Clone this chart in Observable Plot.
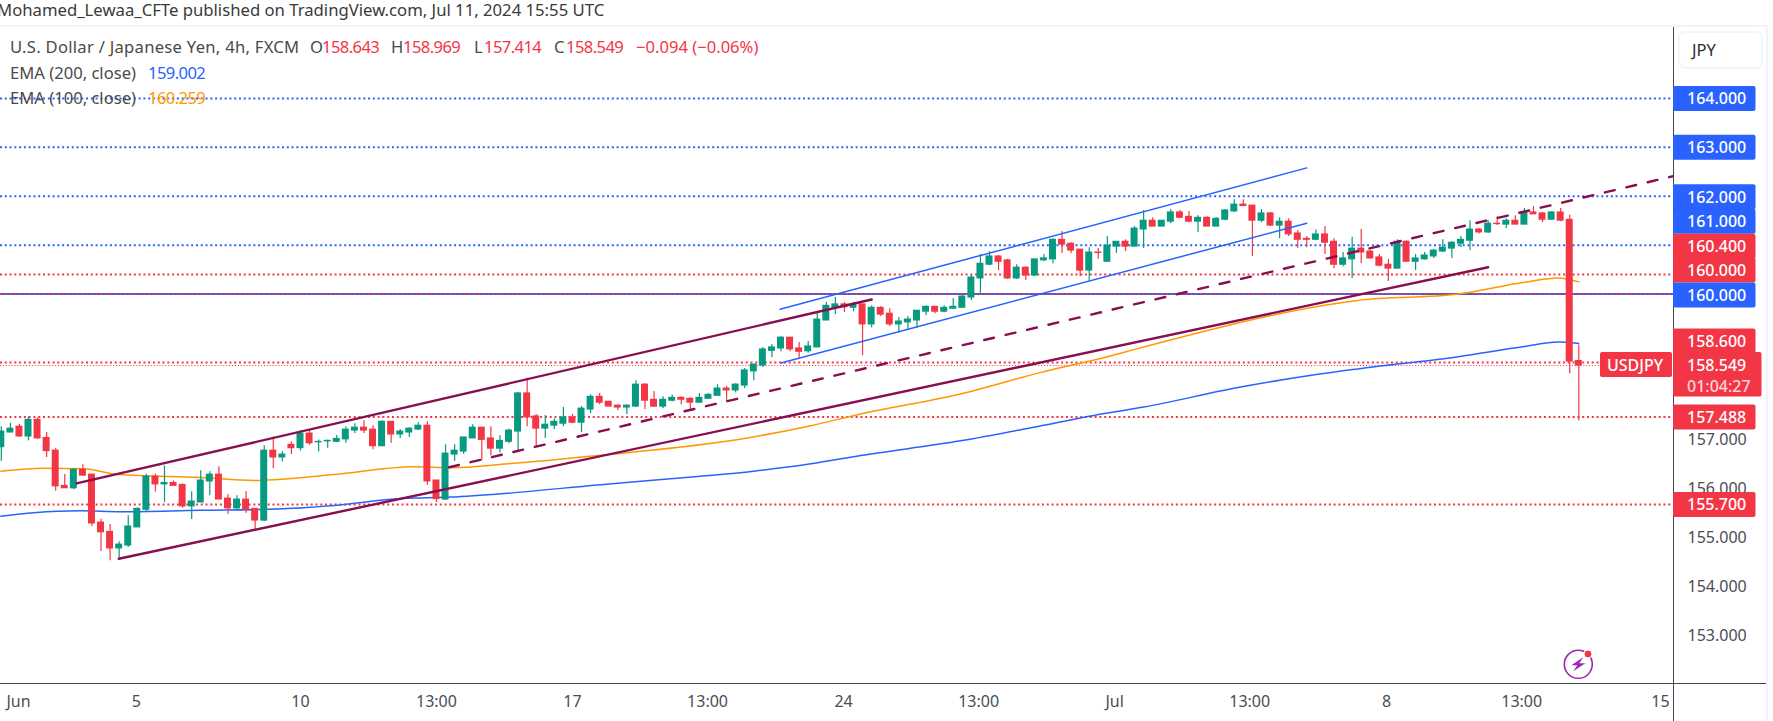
<!DOCTYPE html>
<html>
<head>
<meta charset="utf-8">
<script src="https://cdn.jsdelivr.net/npm/d3@7"></script>
<script src="https://cdn.jsdelivr.net/npm/@observablehq/plot@0.6"></script>
<style>
html,body{margin:0;padding:0;background:#fff;overflow:hidden;width:1773px;height:721px}
#cap{height:25px;font:16.7px/19px "Noto Sans",sans-serif;color:#3a3a3a;white-space:nowrap;margin-left:-3px}
#chart{position:relative;width:1773px;height:696px}
#legend{position:absolute;left:10px;top:9px;font:16.6px/25.5px "Noto Sans",sans-serif;color:#4a4a4a;white-space:nowrap}
#legend div{position:relative;height:25.5px}
#legend span{position:absolute;top:0}
#legend .n{letter-spacing:-0.6px}
#legend .t{position:static;letter-spacing:0.28px}
.r{color:#f23645}.bl{color:#2962ff}.o{color:#ff9800}
svg{display:block}
</style>
</head>
<body>
<div id="cap">Mohamed_Lewaa_CFTe published on TradingView.com, Jul 11, 2024 15:55 UTC</div>
<div id="chart">
<div id="legend">
<div><span class="t">U.S. Dollar / Japanese Yen, 4h, FXCM</span><span style="left:300px">O</span><span class="r n" style="left:312px">158.643</span><span style="left:381px">H</span><span class="r n" style="left:393px">158.969</span><span style="left:464px">L</span><span class="r n" style="left:474px">157.414</span><span style="left:544px">C</span><span class="r n" style="left:556px">158.549</span><span class="r" style="left:626px">−0.094 (−0.06%)</span></div>
<div>EMA (200, close)<span class="bl n" style="left:138px">159.002</span></div>
<div>EMA (100, close)<span class="o n" style="left:138px">160.259</span></div>
</div>
</div>
<script>
const opens = [
156.88,157.18,157.30,157.10,157.44,157.07,156.81,156.09,156.04,156.42,
156.32,155.34,155.15,154.81,154.87,155.24,155.60,156.28,156.12,156.15,
156.11,155.67,155.75,156.18,156.32,155.83,155.63,155.81,155.62,155.38,
156.81,156.67,156.93,156.86,157.16,156.98,157.00,156.99,157.04,157.22,
157.28,157.24,156.90,157.40,157.14,157.18,157.24,157.32,156.20,155.81,
156.73,156.79,157.06,157.28,157.06,156.85,156.99,157.20,157.98,157.51,
157.26,157.32,157.36,157.49,157.38,157.65,157.91,157.81,157.73,157.69,
157.71,158.16,157.85,157.71,157.83,157.89,157.87,157.79,157.87,157.93,
158.08,158.04,158.14,158.43,158.55,158.85,158.90,159.12,158.90,158.84,
158.92,159.47,159.73,159.80,159.73,159.80,159.39,159.73,159.61,159.39,
159.43,159.47,159.65,159.75,159.65,159.71,159.73,159.94,160.33,160.61,
160.78,160.70,160.33,160.55,160.39,160.70,160.72,161.12,161.04,160.92,
160.49,160.86,160.67,160.98,161.08,160.98,161.33,161.51,161.39,161.49,
161.68,161.59,161.49,161.57,161.39,161.53,161.70,161.84,161.82,161.51,
161.66,161.41,161.49,161.25,161.14,161.12,161.23,161.08,160.61,160.72,
160.94,160.88,160.76,160.61,160.53,161.08,160.67,160.72,160.78,160.88,
160.94,161.04,161.10,161.33,161.27,161.45,161.43,161.51,161.43,161.68,
161.66,161.53,161.68,161.53,158.643];
const closes = [
157.20,157.26,157.10,157.44,157.06,156.80,156.08,156.04,156.42,156.30,
155.32,155.14,154.81,154.89,155.26,155.62,156.28,156.12,156.15,156.09,
155.67,155.77,156.20,156.32,155.81,155.63,155.81,155.60,155.38,156.81,
156.67,156.73,156.86,157.16,156.96,156.99,157.01,157.05,157.24,157.28,
157.22,156.90,157.40,157.14,157.20,157.26,157.32,156.18,155.82,156.75,
156.81,157.08,157.28,157.03,156.85,157.01,157.22,157.98,157.49,157.26,
157.34,157.40,157.49,157.38,157.67,157.91,157.79,157.71,157.69,157.73,
158.16,157.83,157.71,157.85,157.89,157.85,157.79,157.89,157.95,158.08,
158.04,158.16,158.45,158.57,158.88,158.92,159.12,158.88,158.83,158.94,
159.49,159.77,159.80,159.74,159.80,159.39,159.73,159.59,159.39,159.45,
159.49,159.67,159.75,159.65,159.73,159.75,159.96,160.35,160.63,160.78,
160.67,160.33,160.55,160.39,160.72,160.74,161.12,161.02,160.90,160.49,
160.86,160.85,161.00,161.08,160.98,161.35,161.51,161.39,161.51,161.68,
161.57,161.49,161.57,161.39,161.55,161.72,161.84,161.81,161.51,161.66,
161.41,161.49,161.23,161.12,161.12,161.23,161.06,160.61,160.74,160.94,
160.86,160.74,160.59,160.53,161.08,160.67,160.74,160.80,160.90,160.96,
161.06,161.12,161.33,161.27,161.45,161.44,161.51,161.43,161.68,161.64,
161.53,161.68,161.51,158.63,158.549];
const highs = [
157.30,157.37,157.35,157.50,157.48,157.18,156.86,156.32,156.44,156.52,
156.33,155.41,155.30,154.95,155.48,155.64,156.33,156.33,156.50,156.19,
156.13,155.97,156.40,156.38,156.48,155.91,155.89,155.97,155.62,156.91,
157.09,156.79,156.99,157.22,157.22,157.03,157.03,157.12,157.30,157.36,
157.42,157.32,157.42,157.40,157.24,157.28,157.38,157.40,156.20,156.93,
156.93,157.08,157.34,157.28,157.30,157.12,157.25,158.00,158.29,157.55,
157.53,157.46,157.69,157.55,157.71,157.95,157.98,157.81,157.75,157.75,
158.24,158.18,158.02,157.91,157.95,157.91,157.89,157.98,157.98,158.16,
158.12,158.18,158.49,158.57,158.92,158.98,159.14,159.12,159.02,159.04,
159.64,159.84,159.94,159.84,159.84,159.80,159.77,159.75,159.71,159.53,
159.55,159.67,159.77,159.75,159.77,159.92,159.98,160.41,160.82,160.88,
160.80,160.72,160.61,160.57,160.72,160.82,161.14,161.29,161.06,160.92,
160.96,160.94,161.19,161.08,161.12,161.39,161.72,161.57,161.51,161.74,
161.72,161.70,161.61,161.59,161.57,161.74,161.94,161.94,161.82,161.74,
161.68,161.57,161.55,161.31,161.19,161.32,161.39,161.14,160.86,161.17,
161.33,160.90,160.82,160.72,161.12,161.10,160.82,160.86,160.92,161.12,
161.08,161.19,161.51,161.35,161.51,161.59,161.55,161.61,161.76,161.80,
161.68,161.70,161.76,161.62,158.969];
const lows = [
156.59,157.18,157.08,157.01,157.04,156.67,155.98,156.04,156.01,156.28,
155.26,154.75,154.56,154.59,154.83,155.24,155.56,155.96,155.75,156.09,
155.63,155.40,155.75,155.89,155.81,155.51,155.57,155.53,155.16,155.36,
156.44,156.58,156.73,156.80,156.92,156.78,156.86,156.97,156.96,157.16,
157.16,156.83,156.90,156.96,157.06,157.08,157.22,156.10,155.75,155.79,
156.59,156.73,157.06,156.61,156.70,156.76,156.95,156.81,157.30,156.89,
157.06,157.24,157.30,157.36,157.18,157.57,157.75,157.71,157.63,157.55,
157.69,157.65,157.69,157.67,157.81,157.75,157.63,157.79,157.87,157.93,
157.81,157.99,158.08,158.24,158.51,158.71,158.83,158.83,158.69,158.80,
158.92,159.47,159.59,159.63,159.65,158.75,159.32,159.55,159.35,159.21,
159.28,159.31,159.57,159.61,159.63,159.71,159.73,159.88,160.01,160.59,
160.49,160.31,160.31,160.29,160.37,160.67,160.63,160.84,160.84,160.37,
160.27,160.72,160.67,160.84,160.88,160.98,160.94,161.39,161.39,161.45,
161.55,161.47,161.27,161.39,161.39,161.51,161.68,161.80,160.78,161.47,
161.39,161.14,161.19,160.94,160.96,161.10,160.82,160.53,160.57,160.33,
160.63,160.72,160.57,160.27,160.53,160.67,160.49,160.70,160.74,160.86,
160.74,160.96,160.90,161.24,161.25,161.41,161.35,161.43,161.43,161.64,
161.47,161.53,161.49,158.38,157.414];

const ema200Bars = [-0.05,3.6,8.8,13.2,22,29.4,36.7,44.1,49.6,55.9,65.8,76.8,83,89.3,94.8,105.8,114.7,120.5,126,136.4,144.5,149.6,160.7,168,171.7,174];
const ema200 = [155.47,155.54,155.58,155.56,155.59,155.61,155.69,155.83,155.86,155.94,156.11,156.28,156.39,156.54,156.71,157.01,157.32,157.53,157.70,158.10,158.35,158.48,158.73,158.94,159.03,159.00];
const ema100Bars = [-0.05,4.7,9.1,12.9,22,27.9,30.5,36.7,45.5,49.6,55.9,65.8,82.3,89.3,94.8,105.8,114.7,122,125,135.3,142.3,149.6,160.7,168,171.7,174];
const ema100 = [156.39,156.45,156.44,156.32,156.26,156.20,156.22,156.32,156.48,156.46,156.54,156.71,157.07,157.32,157.56,157.97,158.41,158.73,158.88,159.37,159.66,159.88,160.01,160.25,160.34,160.26];

// Trend lines: [startBar, startPrice, endBar, endPrice]
const purpleUpper = [8.3,156.14,96,159.90];
const purpleLower = [12.96,154.60,164,160.56];
const purpleMiddle = [49.4,156.47,184.4,162.42];
const blueUpper = [85.9,159.70,144,162.59];
const blueLower = [86,158.60,144,161.46];

const blueLevels = [164,163,162,161];
const blueSolidLevel = [160];
const redLevels = [160.4,160,158.6,157.488,155.7];
const lastPrice = [158.549];

const axisPrices = [153,154,155,156,157];
const timeTicks = [1.9,14.9,33,48,63,77.9,92.9,107.8,122.8,137.7,152.8,167.7,183];
const timeLabels = ["Jun","5","10","13:00","17","13:00","24","13:00","Jul","13:00","8","13:00","15"];
const tagPrices = [164,163,162,161,160.4,160,160,158.6,157.488,155.7];
const tagColors = ["b","b","b","b","r","r","b","r","r","r"];
const tagShift = [0,0,0.6,-24,-28.2,-24,0.8,-21.5,0,0];

const GREEN="#089981", RED="#f23645", BLUE="#2962ff", ORANGE="#ff9800", PURPLE="#880e4f", AXIS="#434651", PANEL="#f0f3fa", TXT="#4a4d57";
const candles = opens.map((o,i)=>({i,open:o,close:closes[i],high:highs[i],low:lows[i],dir:closes[i]>=o?"up":"down"}));
const toLine = a => [{x:a[0],y:a[1]},{x:a[2],y:a[3]}];
const timeMap = new Map(timeTicks.map((t,i)=>[t,timeLabels[i]]));
const FONT='"Noto Sans",sans-serif';

function decor(index, scales, values, dims){
  const g = d3.create("svg:g").attr("font-family",FONT).attr("text-anchor","start");
  const top=2, bot=dims.height-dims.marginBottom, ax=dims.width-dims.marginRight;
  // frame lines
  g.append("rect").attr("x",0).attr("y",0).attr("width",1767).attr("height",2).attr("fill",PANEL);
  g.append("rect").attr("x",1766).attr("y",0).attr("width",2).attr("height",dims.height).attr("fill",PANEL);
  g.append("line").attr("x1",0).attr("x2",1766).attr("y1",bot+.5).attr("y2",bot+.5).attr("stroke",AXIS);
  g.append("line").attr("x1",ax+.5).attr("x2",ax+.5).attr("y1",top).attr("y2",dims.height).attr("stroke",AXIS);
  // currency box
  g.append("rect").attr("x",1679).attr("y",7).attr("width",83).attr("height",36).attr("rx",6).attr("fill","#fff").attr("stroke",PANEL).attr("stroke-width",1.5);
  g.append("text").attr("x",1692).attr("y",25).attr("dy","0.36em").attr("font-size",16.5).attr("fill","#2a2e39").text("JPY");
  // price tags
  const tag=(x,y,w,h,color,radius)=>g.append("rect").attr("x",x).attr("y",y).attr("width",w).attr("height",h).attr("rx",radius).attr("fill",color);
  const label=(x,y,s,o=1,size=16)=>g.append("text").attr("x",x).attr("y",y).attr("dy","0.36em").attr("font-size",size).attr("fill","#fff").attr("fill-opacity",o).attr("font-weight",500).text(s);
  tagPrices.forEach((p,k)=>{
    const cy=scales.y(p)+tagShift[k];
    tag(ax,cy-12.5,82.5,25,tagColors[k]==="b"?BLUE:RED,2);
  });
  tagPrices.forEach((p,k)=>label(1687,scales.y(p)+tagShift[k],p.toFixed(3)));
  // last price tag
  const ly=scales.y(lastPrice[0]);
  tag(1600,ly-13,72,25,RED,2);
  label(1607,ly,"USDJPY",1,16);
  tag(ax,ly-13,88.5,44.5,RED,2);
  label(1687,ly,lastPrice[0].toFixed(3));
  label(1687,ly+21,"01:04:27",0.8,16);
  // bolt badge
  const ix=1578.3, iy=664.3-25;
  g.append("circle").attr("cx",ix).attr("cy",iy).attr("r",14).attr("fill","#fff").attr("stroke","#9c27b0").attr("stroke-width",1.6);
  g.append("path").attr("d",`M${ix+5},${iy-7} L${ix-7},${iy+1} L${ix-1},${iy+1} L${ix-5},${iy+7} L${ix+7},${iy-1} L${ix+1},${iy-1} Z`).attr("fill","#9c27b0");
  g.append("circle").attr("cx",ix+9.7).attr("cy",iy-10.3).attr("r",4).attr("fill",RED).attr("stroke","#fff");
  return g.node();
}

const chart = Plot.plot({
  width:1773, height:696,
  marginTop:2, marginBottom:38, marginLeft:0, marginRight:100,
  x:{domain:[0,174],range:[0.8,1578.3],axis:null},
  y:{domain:[152.05,165.46],range:[658,2],axis:null},
  color:{domain:["up","down"],range:[GREEN,RED]},
  style:{background:"#fff",fontFamily:FONT,overflow:"visible"},
  marks:[
    Plot.ruleY(blueLevels,{stroke:BLUE,strokeWidth:2,strokeDasharray:"2 2.78",dy:-0.5}),
    Plot.ruleY(blueSolidLevel,{stroke:BLUE,strokeWidth:2,dy:-0.5}),
    Plot.ruleY(redLevels,{stroke:RED,strokeWidth:2,strokeDasharray:"2 2.78",dy:-0.5}),
    Plot.ruleY(lastPrice,{stroke:RED,strokeWidth:1,strokeDasharray:"1 1.9"}),
    Plot.line(ema100.map((v,i)=>({x:ema100Bars[i],y:v})),{x:"x",y:"y",stroke:ORANGE,strokeWidth:1.5,curve:"monotone-x"}),
    Plot.line(ema200.map((v,i)=>({x:ema200Bars[i],y:v})),{x:"x",y:"y",stroke:BLUE,strokeWidth:1.5,curve:"monotone-x"}),
    Plot.ruleX(candles,{x:"i",y1:"low",y2:"high",stroke:"dir",strokeWidth:1.2}),
    Plot.rect(candles,{x1:d=>d.i-0.385,x2:d=>d.i+0.385,y1:"open",y2:"close",fill:"dir",insetTop:-0.5,insetBottom:-0.5}),
    Plot.line(toLine(purpleUpper),{x:"x",y:"y",stroke:PURPLE,strokeWidth:2.4}),
    Plot.line(toLine(purpleLower),{x:"x",y:"y",stroke:PURPLE,strokeWidth:2.4}),
    Plot.line(toLine(purpleMiddle),{x:"x",y:"y",stroke:PURPLE,strokeWidth:2.4,strokeDasharray:"10 12",clip:true}),
    Plot.line(toLine(blueUpper),{x:"x",y:"y",stroke:BLUE,strokeWidth:1.5}),
    Plot.line(toLine(blueLower),{x:"x",y:"y",stroke:BLUE,strokeWidth:1.5}),
    Plot.axisX(timeTicks,{tickSize:0,tickPadding:12,fontSize:16,fill:TXT,label:null,tickFormat:d=>timeMap.get(d),anchor:"bottom"}),
    Plot.axisY(axisPrices,{anchor:"right",tickSize:0,tickPadding:14,fontSize:16,fill:TXT,label:null,tickFormat:d=>d.toFixed(3),dy:-1}),
    decor
  ]
});
const host=document.getElementById("chart");
host.insertBefore(chart,host.firstChild);
</script>
</body>
</html>
